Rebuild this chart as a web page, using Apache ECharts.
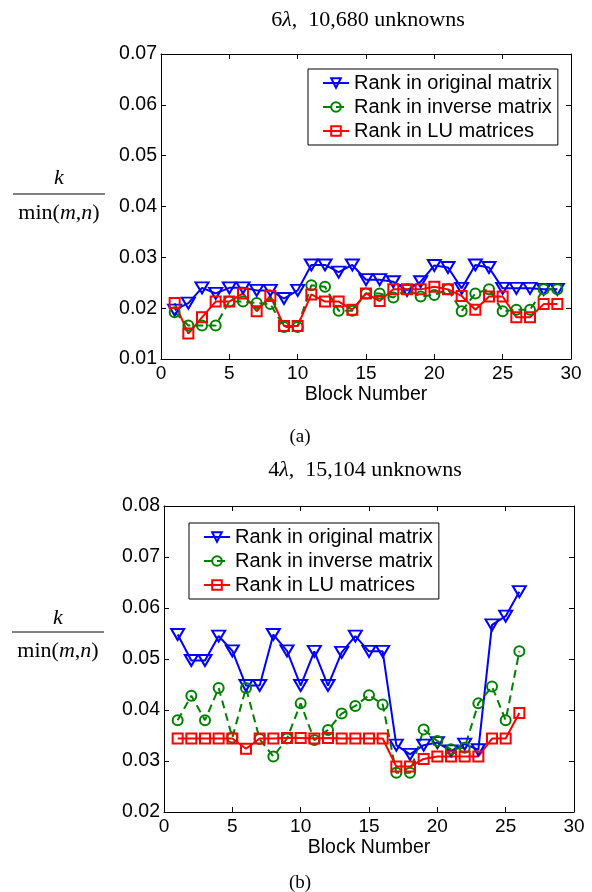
<!DOCTYPE html>
<html>
<head>
<meta charset="utf-8">
<script src="https://cdn.jsdelivr.net/npm/echarts@6/dist/echarts.min.js"></script>
<style>
  html, body { margin: 0; padding: 0; background: #fff; }
  #chart { width: 592px; height: 892px; }
</style>
</head>
<body>
<div id="chart"></div>
<script>
// (a) 6λ, 10,680 unknowns
const blocksA = [1, 2, 3, 4, 5, 6, 7, 8, 9, 10, 11, 12, 13, 14, 15, 16, 17, 18, 19, 20, 21, 22, 23, 24, 25, 26, 27, 28, 29];
const originalA = [0.0196, 0.0210, 0.0240, 0.0229, 0.0240, 0.0240, 0.0235, 0.0235, 0.0219, 0.0235, 0.0285, 0.0285, 0.0271, 0.0285, 0.0256,
  0.0256, 0.0252, 0.0235, 0.0252, 0.0284, 0.0280, 0.0239, 0.0285, 0.0280, 0.0239, 0.0239, 0.0239, 0.0237, 0.0237];
const inverseA = [0.0192, 0.0166, 0.0166, 0.0166, 0.0213, 0.0213, 0.0210, 0.0208, 0.0163, 0.0163, 0.0245, 0.0242, 0.0195, 0.0195, 0.0229,
  0.0229, 0.0221, 0.0237, 0.0223, 0.0226, 0.0237, 0.0194, 0.0229, 0.0237, 0.0194, 0.0197, 0.0197, 0.0237, 0.0237];
const luA = [0.0210, 0.0150, 0.0182, 0.0213, 0.0213, 0.0229, 0.0194, 0.0224, 0.0165, 0.0165, 0.0227, 0.0213, 0.0213, 0.0197, 0.0229,
  0.0214, 0.0237, 0.0237, 0.0237, 0.0242, 0.0237, 0.0224, 0.0197, 0.0223, 0.0223, 0.0182, 0.0182, 0.0208, 0.0208];

// (b) 4λ, 15,104 unknowns
const blocksB = [1, 2, 3, 4, 5, 6, 7, 8, 9, 10, 11, 12, 13, 14, 15, 16, 17, 18, 19, 20, 21, 22, 23, 24, 25, 26];
const originalB = [0.0548, 0.0497, 0.0497, 0.0545, 0.0516, 0.0448, 0.0448, 0.0548, 0.0516, 0.0448, 0.0515, 0.0448, 0.0513, 0.0545, 0.0515,
  0.0515, 0.0331, 0.0313, 0.0331, 0.0336, 0.0320, 0.0333, 0.0322, 0.0567, 0.0584, 0.0632];
const inverseB = [0.0380, 0.0428, 0.0380, 0.0443, 0.0346, 0.0443, 0.0343, 0.0309, 0.0344, 0.0413, 0.0341, 0.0361, 0.0393, 0.0408, 0.0429,
  0.0411, 0.0277, 0.0277, 0.0362, 0.0339, 0.0323, 0.0326, 0.0413, 0.0446, 0.0380, 0.0515];
const luB = [0.0344, 0.0344, 0.0344, 0.0344, 0.0344, 0.0324, 0.0344, 0.0344, 0.0345, 0.0345, 0.0344, 0.0345, 0.0344, 0.0344, 0.0344,
  0.0344, 0.0289, 0.0289, 0.0304, 0.0309, 0.0309, 0.0309, 0.0309, 0.0344, 0.0344, 0.0394];

const seriesNames = ["Rank in original matrix", "Rank in inverse matrix", "Rank in LU matrices"];

const sans = "Liberation Sans, Arial, sans-serif";
const serif = "Liberation Serif, Times New Roman, serif";

function pairs(xs, ys) {
  return xs.map((x, i) => [x, ys[i]]);
}

function lineSeries(name, axisIndex, data, kind) {
  const s = {
    name: name,
    type: "line",
    xAxisIndex: axisIndex,
    yAxisIndex: axisIndex,
    data: data,
    animation: false,
    emphasis: { disabled: true },
    z: 3,
  };
  if (kind === "blue") {
    s.symbol = "triangle";
    s.symbolRotate = 180;
    s.symbolSize = [13, 11];
    s.lineStyle = { color: "#0000ff", width: 2 };
    s.itemStyle = { color: "rgba(255,255,255,0)", borderColor: "#0000ff", borderWidth: 2 };
  } else if (kind === "green") {
    s.symbol = "circle";
    s.symbolSize = 10;
    s.lineStyle = { color: "#008000", width: 2, type: [8, 5] };
    s.itemStyle = { color: "rgba(255,255,255,0)", borderColor: "#008000", borderWidth: 2 };
  } else {
    s.symbol = "rect";
    s.symbolSize = 10;
    s.lineStyle = { color: "#ff0000", width: 2 };
    s.itemStyle = { color: "rgba(255,255,255,0)", borderColor: "#ff0000", borderWidth: 2 };
  }
  return s;
}

function xAxisCfg(gridIndex, position, withLabels) {
  return {
    type: "value",
    gridIndex: gridIndex,
    position: position,
    min: 0,
    max: 30,
    interval: 5,
    axisLine: { show: true, onZero: false, lineStyle: { color: "#000", width: 1 } },
    axisTick: { show: true, inside: true, length: 5, lineStyle: { color: "#000" } },
    axisLabel: { show: withLabels, color: "#000", fontSize: 19, fontFamily: sans, margin: 5 },
    splitLine: { show: false },
    name: withLabels ? "Block Number" : "",
    nameLocation: "middle",
    nameGap: 26,
    nameTextStyle: { color: "#000", fontSize: 19.5, fontFamily: sans },
  };
}

function yAxisCfg(gridIndex, position, min, max, withLabels) {
  return {
    type: "value",
    gridIndex: gridIndex,
    position: position,
    min: min,
    max: max,
    interval: 0.01,
    axisLine: { show: true, onZero: false, lineStyle: { color: "#000", width: 1 } },
    axisTick: { show: true, inside: true, length: 5, lineStyle: { color: "#000" } },
    axisLabel: {
      show: withLabels, color: "#000", fontSize: 19.5, fontFamily: sans, margin: 4,
      formatter: (v) => v.toFixed(2),
    },
    splitLine: { show: false },
  };
}

function legendCfg(left, top) {
  return {
    orient: "vertical",
    left: left,
    top: top,
    data: seriesNames,
    backgroundColor: "#fff",
    borderColor: "#000",
    borderWidth: 1,
    borderRadius: 0,
    padding: [4, 6, 4, 14],
    itemWidth: 26,
    itemHeight: 12,
    itemGap: 4,
    selectedMode: false,
    textStyle: { color: "#000", fontSize: 20, fontFamily: sans, padding: [0, 0, 0, 0] },
  };
}

// k / min(m,n) label, title and caption for one panel
function panelGraphics(labelX, kY, barY, minY, barX0, barX1, titleX, titleY, titleNum, titleRest, capY, cap) {
  return [
    {
      type: "text", x: labelX, y: kY,
      style: { text: "k", font: "italic 22px " + serif, fill: "#000", align: "center", verticalAlign: "middle" },
    },
    {
      type: "line", shape: { x1: barX0, y1: barY, x2: barX1, y2: barY },
      style: { stroke: "#000", lineWidth: 1 },
    },
    {
      type: "text", x: labelX, y: minY,
      style: {
        text: "{r|min(}{i|m}{r|,}{i|n}{r|)}",
        rich: {
          r: { font: "22px " + serif, fill: "#000" },
          i: { font: "italic 22px " + serif, fill: "#000" },
        },
        align: "center", verticalAlign: "middle",
      },
    },
    {
      type: "text", x: titleX, y: titleY,
      style: {
        text: "{r|" + titleNum + "}{i|λ}{r|" + titleRest + "}",
        rich: {
          r: { font: "22px " + serif, fill: "#000" },
          i: { font: "italic 22px " + serif, fill: "#000" },
        },
        align: "center", verticalAlign: "middle",
      },
    },
    {
      type: "text", x: capY[0], y: capY[1],
      style: { text: cap, font: "19px " + serif, fill: "#000", align: "center", verticalAlign: "middle" },
    },
  ];
}

const option = {
  backgroundColor: "#fff",
  animation: false,
  grid: [
    { left: 161, top: 54, width: 410, height: 305 },
    { left: 164, top: 506, width: 410, height: 306 },
  ],
  xAxis: [
    xAxisCfg(0, "bottom", true),
    xAxisCfg(0, "top", false),
    xAxisCfg(1, "bottom", true),
    xAxisCfg(1, "top", false),
  ],
  yAxis: [
    yAxisCfg(0, "left", 0.01, 0.07, true),
    yAxisCfg(0, "right", 0.01, 0.07, false),
    yAxisCfg(1, "left", 0.02, 0.08, true),
    yAxisCfg(1, "right", 0.02, 0.08, false),
  ],
  legend: [legendCfg(308, 69), legendCfg(189, 523)],
  series: [
    lineSeries(seriesNames[0], 0, pairs(blocksA, originalA), "blue"),
    lineSeries(seriesNames[1], 0, pairs(blocksA, inverseA), "green"),
    lineSeries(seriesNames[2], 0, pairs(blocksA, luA), "red"),
    lineSeries(seriesNames[0], 2, pairs(blocksB, originalB), "blue"),
    lineSeries(seriesNames[1], 2, pairs(blocksB, inverseB), "green"),
    lineSeries(seriesNames[2], 2, pairs(blocksB, luB), "red"),
  ],
  graphic: [
    ...panelGraphics(59, 178, 194, 213, 13, 105, 368, 20, "6", ",  10,680 unknowns", [300, 437], "(a)"),
    ...panelGraphics(58, 618, 632, 651, 12, 104, 365, 470, "4", ",  15,104 unknowns", [300, 883], "(b)"),
  ],
};

const myChart = echarts.init(document.getElementById("chart"), null, { renderer: "canvas" });
myChart.setOption(option);
window.addEventListener("resize", () => {
  myChart.resize();
});
</script>
</body>
</html>
